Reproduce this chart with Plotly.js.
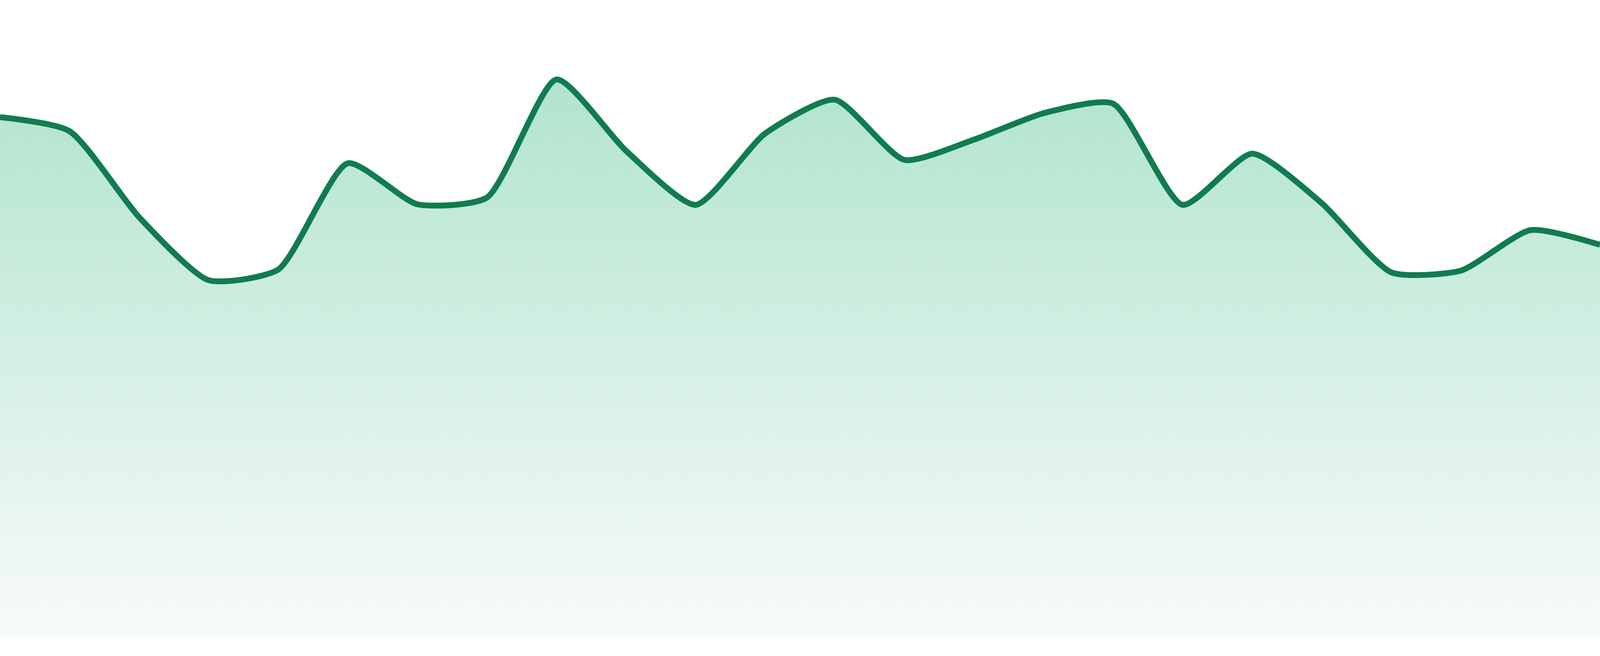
<!DOCTYPE html>
<html>
<head>
<meta charset="utf-8">
<script src="https://cdn.plot.ly/plotly-3.0.1.min.js"></script>
<style>
  html, body { margin: 0; padding: 0; background: #ffffff; overflow: hidden; }
  #chart { width: 100vw; height: 100vh; }
</style>
</head>
<body>
<div id="chart"></div>
<script>
// Data (evenly spaced periods)
const periods = [0, 1, 2, 3, 4, 5, 6, 7, 8, 9, 10, 11, 12, 13, 14, 15, 16, 17, 18, 19, 20, 21, 22, 23];
const values = [92.5, 90.0, 74.7, 63.5, 65.4, 84.3, 77.0, 78.2, 99.2, 86.5, 76.9, 89.6,
                95.6, 84.9, 88.5, 93.2, 94.9, 76.9, 86.0, 77.2, 64.9, 65.2, 72.4, 69.8];

const lineColor = '#107c50';
const fillTop = '#b1e4ce';
const fillBottom = '#f8fbfa';

const W = window.innerWidth;
const H = window.innerHeight;

const trace = {
  type: 'scatter',
  mode: 'lines',
  x: periods,
  y: values,
  line: { color: lineColor, width: 15, shape: 'spline', smoothing: 0.6 },
  fill: 'tozeroy',
  fillgradient: {
    type: 'vertical',
    colorscale: [[0, fillBottom], [1, fillTop]],
    start: 0,
    stop: Math.max(...values)
  },
  hoverinfo: 'skip'
};

const layout = {
  width: W,
  height: H,
  margin: { l: 0, r: 0, t: 0, b: 0, pad: 0 },
  paper_bgcolor: '#ffffff',
  plot_bgcolor: '#ffffff',
  showlegend: false,
  xaxis: { visible: false, range: [periods[0], periods[periods.length - 1]], fixedrange: true },
  yaxis: { visible: false, range: [-3.333, 113.333], fixedrange: true }
};

Plotly.newPlot('chart', [trace], layout, { displayModeBar: false, staticPlot: true });
</script>
</body>
</html>
